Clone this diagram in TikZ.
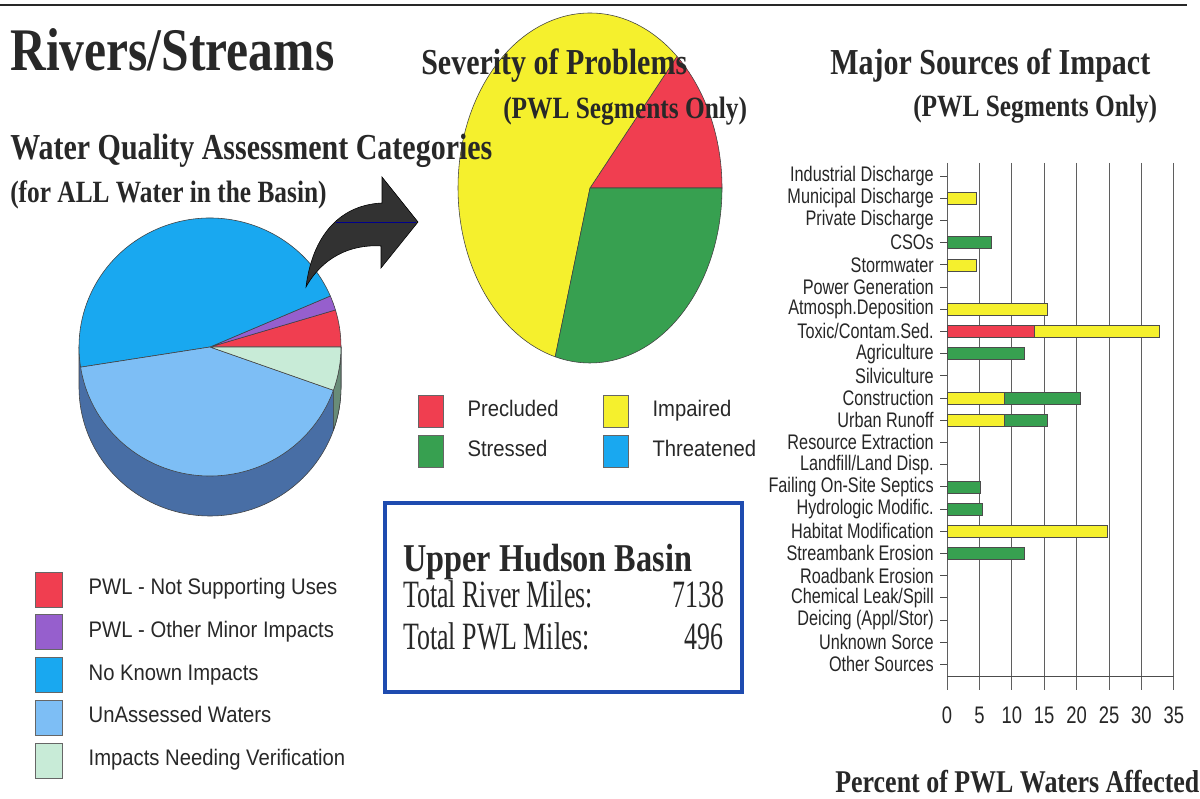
\documentclass[tikz,border=0pt]{standalone}
\usepackage{fontspec}
\setmainfont{Liberation Serif}
\newfontfamily\hdserif[FakeStretch=0.82]{Liberation Serif}
\newfontfamily\rowserif[FakeStretch=0.67]{Liberation Serif}
\newfontfamily\keysans[FakeStretch=0.9]{Liberation Sans}
\newfontfamily\srcsans[FakeStretch=0.77]{Liberation Sans}
\usetikzlibrary{positioning}

\definecolor{ink}{RGB}{40,40,40}
\definecolor{pwlRed}{RGB}{240,62,80}
\definecolor{pwlPurple}{RGB}{150,95,205}
\definecolor{noImpBlue}{RGB}{25,168,240}
\definecolor{unassBlue}{RGB}{125,190,245}
\definecolor{verifGreen}{RGB}{200,235,215}
\definecolor{pieSide}{RGB}{72,110,165}
\definecolor{sideGreen}{RGB}{105,140,120}
\definecolor{sevYellow}{RGB}{245,240,45}
\definecolor{sevGreen}{RGB}{55,160,80}
\definecolor{arrowGray}{RGB}{50,50,50}
\definecolor{boxBlue}{RGB}{30,75,175}
\definecolor{gridGray}{RGB}{95,95,95}

\tikzset{
  head/.style={font=\hdserif\bfseries\fontsize{26}{30}\selectfont, text=ink, inner sep=0pt, anchor=base west},
  subhead/.style={head, font=\hdserif\bfseries\fontsize{22}{26}\selectfont},
  slice/.style={draw=black!75, line width=0.4pt, line join=round},
  lpie/.style={x radius=131, y radius=129},
  mpie/.style={x radius=132, y radius=175},
  keybox/.style={draw=black!60, line width=0.5pt, inner sep=0pt, minimum width=19.2pt, minimum height=24.9pt},
  sevkey/.style={keybox, minimum width=17.8pt, minimum height=22.8pt},
  keytext/.style={font=\keysans\fontsize{16}{19}\selectfont, text=ink, inner sep=0pt, text height=0.72em, text depth=0pt},
  srclbl/.style={font=\srcsans\fontsize{15}{17}\selectfont, text=black!85, inner sep=0pt, anchor=east},
  ticklbl/.style={font=\srcsans\fontsize{17}{19}\selectfont, text=black!85, inner sep=0pt},
  grid/.style={gridGray, line width=0.7pt},
  axisline/.style={black!70, line width=0.7pt},
  barseg/.style={draw=black!70, line width=0.4pt},
  rowtext/.style={font=\rowserif\fontsize{27.5}{30}\selectfont, text=ink, inner sep=0pt}
}

% one segment of a source bar: row, from %, to %, colour
\newcommand{\impactbar}[4]{%
  \filldraw[barseg, fill=#4] ({947+6.48*#2},{170+22.2*#1}) rectangle ({947+6.48*#3},{182+22.2*#1});}

\begin{document}
\begin{tikzpicture}[x=0.025cm, y=-0.025cm]
\useasboundingbox[fill=white] (0,0) rectangle (1200,799);
\draw[ink, line width=1.6pt] (0,5) -- (1187,5);

% assessment categories, 3-d pie
\begin{scope}[shift={(210,347)}]
  \fill[pieSide] (-131,0) -- (-131,40) arc[lpie, start angle=180, end angle=0] -- (131,0) -- cycle;
  \draw[slice] (-131,0) -- (-131,40) arc[lpie, start angle=180, end angle=0] -- (131,0);
  \filldraw[slice, fill=sideGreen] (19.6:131 and 129) arc[lpie, start angle=19.6, end angle=0]
    -- ++(0,40) arc[lpie, start angle=0, end angle=19.6] -- cycle;
  \filldraw[slice, fill=pwlRed] (0,0) -- (0:131 and 129) arc[lpie, start angle=0, end angle=-16.7] -- cycle;
  \filldraw[slice, fill=pwlPurple] (0,0) -- (-16.7:131 and 129) arc[lpie, start angle=-16.7, end angle=-23.3] -- cycle;
  \filldraw[slice, fill=noImpBlue] (0,0) -- (-23.3:131 and 129) arc[lpie, start angle=-23.3, end angle=-189] -- cycle;
  \filldraw[slice, fill=unassBlue] (0,0) -- (-189:131 and 129) arc[lpie, start angle=-189, end angle=-340.4] -- cycle;
  \filldraw[slice, fill=verifGreen] (0,0) -- (-340.4:131 and 129) arc[lpie, start angle=-340.4, end angle=-360] -- cycle;
\end{scope}

% severity pie
\begin{scope}[shift={(590,188)}]
  \filldraw[slice, fill=pwlRed] (0,0) -- (0:132 and 175) arc[mpie, start angle=0, end angle=-48.8] -- cycle;
  \filldraw[slice, fill=sevYellow] (0,0) -- (-48.8:132 and 175) arc[mpie, start angle=-48.8, end angle=-254.7] -- cycle;
  \filldraw[slice, fill=sevGreen] (0,0) -- (-254.7:132 and 175) arc[mpie, start angle=-254.7, end angle=-360] -- cycle;
\end{scope}

% curved arrow
\filldraw[fill=arrowGray, draw=black, line width=0.4pt] (306,287) .. controls (312,238) and (338,205) .. (382,203)
  -- (382,177) -- (418,222) -- (381,268) -- (381,246) .. controls (350,244) and (322,258) .. (306,287) -- cycle;
\draw[blue!55!black, line width=0.5pt] (336,222) -- (416,222);

% headings
\node[head, font=\hdserif\bfseries\fontsize{43}{48}\selectfont] (title) at (10,71) {Rivers/Streams};
\node[head] (sevhead) at (421,75) {Severity of Problems};
\node[subhead] (sevsub) at (503,119) {(PWL Segments Only)};
\node[head] (wqhead) at (10,160) {Water Quality Assessment Categories};
\node[subhead] (wqsub) at (10,203) {(for ALL Water in the Basin)};
\node[head] (srchead) at (830,75) {Major Sources of Impact};
\node[subhead] (srcsub) at (913,117) {(PWL Segments Only)};
\node[head, font=\hdserif\bfseries\fontsize{22.5}{26}\selectfont] (pcthead) at (835,792) {Percent of PWL Waters Affected};

% legend, assessment categories
\foreach \c/\t [count=\i] in {pwlRed/PWL - Not Supporting Uses, pwlPurple/PWL - Other Minor Impacts,
    noImpBlue/No Known Impacts, unassBlue/UnAssessed Waters, verifGreen/Impacts Needing Verification} {
  \node[keybox, fill=\c] (wq\i) at (48.5,546.75+42.75*\i) {};
  \node[keytext, right=18.5pt of wq\i] (wqt\i) {\t};
}

% legend, severity
\node[sevkey, fill=pwlRed] (kpre) at (430.5,411) {};
\node[keytext, right=17pt of kpre] (tpre) {Precluded};
\node[sevkey, fill=sevGreen] (ksts) at (430.5,451.5) {};
\node[keytext, right=17pt of ksts] (tsts) {Stressed};
\node[sevkey, fill=sevYellow] (kimp) at (615.5,411) {};
\node[keytext, right=17pt of kimp] (timp) {Impaired};
\node[sevkey, fill=noImpBlue] (kthr) at (615.5,451.5) {};
\node[keytext, right=17pt of kthr] (tthr) {Threatened};

% basin box
\node[draw=boxBlue, line width=2.8pt, minimum width=254pt, minimum height=134.4pt, inner sep=0pt] (basin) at (563.5,597.5) {};
\node[head, font=\hdserif\bfseries\fontsize{28}{32}\selectfont] (bname) at (403,571) {Upper Hudson Basin};
\node[rowtext, anchor=base west] (rivl) at (403,607) {Total River Miles:};
\node[rowtext, anchor=base east] (rivn) at (725,607) {7138};
\node[rowtext, anchor=base west] (pwll) at (403,649) {Total PWL Miles:};
\node[rowtext, anchor=base east] (pwln) at (724,649) {496};

% sources of impact bar chart
\foreach \v in {0,5,...,35} {
  \draw[grid] ({947+6.48*\v},163) -- ({947+6.48*\v},690);
  \node[ticklbl] (tick\v) at ({947+6.48*\v},715) {\v};
}
\draw[axisline] (947,676) -- (1174,676);
\foreach \src [count=\i from 0] in {Industrial Discharge, Municipal Discharge, Private Discharge, CSOs,
    Stormwater, Power Generation, Atmosph.Deposition, Toxic/Contam.Sed., Agriculture, Silviculture,
    Construction, Urban Runoff, Resource Extraction, Landfill/Land Disp., Failing On-Site Septics,
    Hydrologic Modific., Habitat Modification, Streambank Erosion, Roadbank Erosion,
    Chemical Leak/Spill, Deicing (Appl/Stor), Unknown Sorce, Other Sources} {
  \node[srclbl] (src\i) at (934,176+22.2*\i) {\src};
  \draw[axisline] (940,176+22.2*\i) -- (947,176+22.2*\i);
}
\impactbar{1}{0}{4.5}{sevYellow}
\impactbar{3}{0}{6.8}{sevGreen}
\impactbar{4}{0}{4.5}{sevYellow}
\impactbar{6}{0}{15.4}{sevYellow}
\impactbar{7}{0}{13.4}{pwlRed}
\impactbar{7}{13.4}{32.7}{sevYellow}
\impactbar{8}{0}{11.9}{sevGreen}
\impactbar{10}{0}{8.8}{sevYellow}
\impactbar{10}{8.8}{20.5}{sevGreen}
\impactbar{11}{0}{8.8}{sevYellow}
\impactbar{11}{8.8}{15.4}{sevGreen}
\impactbar{14}{0}{5.1}{sevGreen}
\impactbar{15}{0}{5.4}{sevGreen}
\impactbar{16}{0}{24.8}{sevYellow}
\impactbar{17}{0}{12}{sevGreen}
\end{tikzpicture}
\end{document}
